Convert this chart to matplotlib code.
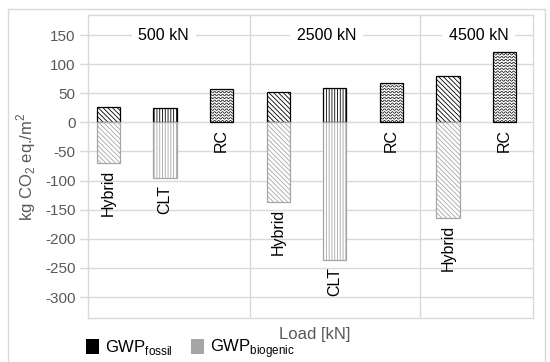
import matplotlib
matplotlib.use('Agg')
import matplotlib.pyplot as plt
from matplotlib.patches import Patch, Rectangle
import numpy as np

plt.rcParams['font.family'] = ['Liberation Sans', 'DejaVu Sans']
plt.rcParams['hatch.linewidth'] = 0.6
plt.rcParams['axes.unicode_minus'] = False
plt.rcParams['mathtext.fontset'] = 'custom'
plt.rcParams['mathtext.rm'] = 'Liberation Sans'

# data
groups = ['500 kN', '2500 kN', '4500 kN']
systems = ['Hybrid', 'CLT', 'RC', 'Hybrid', 'CLT', 'RC', 'Hybrid', 'RC']
fossil = [27, 24, 57, 52, 59, 67, 80, 120]
biogenic = [-69, -95, 0, -137, -236, 0, -164, 0]
group_label_x = [0.98, 3.86, 6.54]
separators = [2.5, 5.5]

grid_col = '#d9d9d9'
txt_gray = '#595959'
bio_gray = '#a6a6a6'
hatches = {'Hybrid': '\\' * 7, 'CLT': '|' * 6, 'RC': None}

fig = plt.figure(figsize=(5.5, 3.62), dpi=100)
ax = fig.add_axes([80/550, 44/362, 453/550, 303/362])

x = np.arange(len(systems))
w = 0.41
for i, s in enumerate(systems):
    if s == 'RC':
        b = ax.bar(x[i], fossil[i], width=w, color='white', edgecolor='black', lw=0.9, zorder=3)[0]
        # wavy texture clipped to the bar
        xs = np.linspace(x[i] - w/2, x[i] + w/2, 80)
        for yy in np.arange(2, fossil[i] + 6, 5.0):
            ln, = ax.plot(xs, yy + 1.4*np.sin((xs - x[i]) * 2*np.pi / 0.07), color='black', lw=0.5, zorder=3)
            ln.set_clip_path(b)
    else:
        ax.bar(x[i], fossil[i], width=w, color='white', edgecolor='black', hatch=hatches[s], lw=0.9, zorder=3)
        ax.bar(x[i], biogenic[i], width=w, color='white', edgecolor=bio_gray, hatch=hatches[s], lw=0.9, zorder=3)
    ax.annotate(s, (x[i], min(biogenic[i], 0)), xytext=(0, -7), textcoords='offset pixels',
                rotation=90, ha='center', va='top', fontsize=11.5, color='black')

ax.set_xlim(-0.5, 7.5)
ax.set_ylim(-336, 184.4)
ax.set_yticks(range(-300, 151, 50))
ax.set_xticks([])
ax.yaxis.grid(True, color=grid_col, lw=1)
ax.set_axisbelow(True)
ax.tick_params(axis='y', length=0, pad=9, labelsize=11, labelcolor=txt_gray)

for sp in ['top', 'bottom', 'right', 'left']:
    ax.spines[sp].set_color(grid_col)
    ax.spines[sp].set_linewidth(1)
ax.spines['left'].set_position(('data', -0.36))
ax.spines['top'].set_bounds(-0.36, 7.5)
ax.spines['bottom'].set_bounds(-0.36, 7.5)
for sx in separators:
    ax.axvline(sx, color=grid_col, lw=1, zorder=1)

for gx, g in zip(group_label_x, groups):
    ax.text(gx, 150, g, ha='center', va='center', fontsize=11.5, color='black',
            bbox=dict(fc='white', ec='none', pad=5), zorder=4)

fig.text(26/550, 1 - 167/362, r'kg CO$_{\mathregular{2}}$ eq./m$^{\mathregular{2}}$', rotation=90,
         ha='center', va='center', fontsize=12, color=txt_gray)
fig.text(315/550, 1 - 334/362, 'Load [kN]', ha='center', va='center', fontsize=12, color=txt_gray)

handles = [Patch(fc='black', ec='none'), Patch(fc=bio_gray, ec='none')]
fig.legend(handles, [r'GWP$_{\mathregular{fossil}}$', r'GWP$_{\mathregular{biogenic}}$'],
           loc='upper left', bbox_to_anchor=(71/550, 1 - 322/362), ncol=2, frameon=False,
           fontsize=12, handlelength=0.75, handleheight=1.0, handletextpad=0.4, columnspacing=1.1)

fig.patches.append(Rectangle((8/550, -0.05), 537/550, 1 - 9/362 + 0.05, transform=fig.transFigure,
                             fill=False, ec=grid_col, lw=1))

fig.savefig('out.png', dpi=100)
